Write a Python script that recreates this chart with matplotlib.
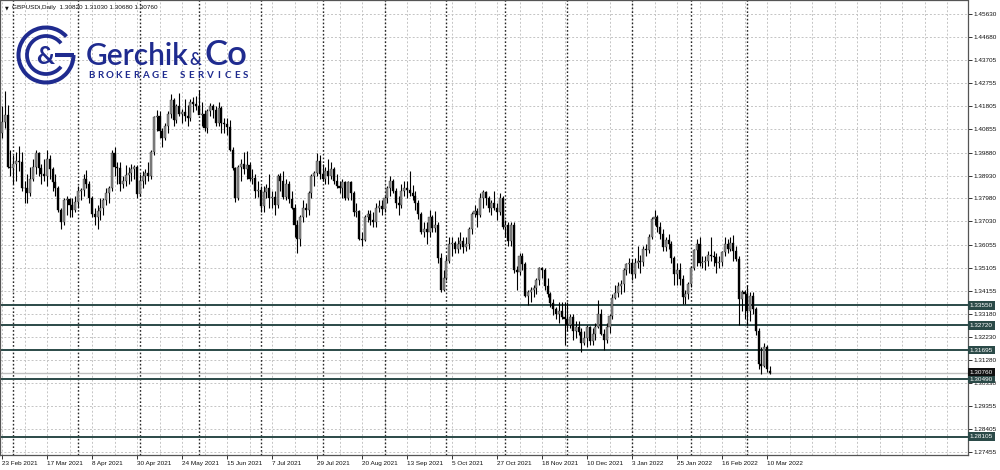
import matplotlib.pyplot as plt
import numpy as np
import pandas as pd
from matplotlib.patches import Arc

plt.rcParams['font.family'] = ['Liberation Sans', 'DejaVu Sans']

# Cours GBPUSD journaliers (en 1/10000), du 23 fév 2021 au 11 mars 2022
opens = [14070, 14115, 14145, 13930, 13925, 13940, 13955, 13950, 13840, 13840, 13820, 13880, 13930, 13985, 13925, 13900,
         13890, 13960, 13920, 13865, 13840, 13750, 13700, 13790, 13795, 13770, 13750, 13785, 13830, 13835, 13880, 13860,
         13800, 13735, 13720, 13745, 13760, 13790, 13820, 13840, 13985, 13930, 13925, 13860, 13870, 13895, 13905, 13920,
         13930, 13815, 13870, 13890, 13905, 13890, 13990, 14135, 14140, 14080, 14050, 14100, 14150, 14205, 14125, 14180,
         14150, 14155, 14140, 14130, 14200, 14190, 14180, 14145, 14150, 14090, 14160, 14180, 14165, 14110, 14175, 14110,
         14105, 14095, 14000, 13925, 13800, 13930, 13940, 13920, 13935, 13880, 13885, 13830, 13835, 13765, 13825, 13840,
         13800, 13805, 13770, 13890, 13870, 13805, 13860, 13795, 13760, 13690, 13630, 13720, 13760, 13750, 13820, 13890,
         13905, 13955, 13900, 13880, 13910, 13890, 13920, 13870, 13850, 13840, 13865, 13800, 13865, 13820, 13740, 13745,
         13630, 13625, 13720, 13735, 13710, 13700, 13760, 13765, 13755, 13800, 13840, 13870, 13830, 13780, 13770, 13830,
         13840, 13835, 13820, 13810, 13780, 13735, 13660, 13670, 13660, 13720, 13675, 13690, 13550, 13420, 13470, 13540,
         13610, 13615, 13590, 13610, 13620, 13595, 13610, 13670, 13735, 13745, 13730, 13800, 13825, 13800, 13760, 13780,
         13760, 13740, 13800, 13680, 13690, 13620, 13690, 13500, 13495, 13560, 13525, 13395, 13410, 13420, 13425, 13460,
         13510, 13500, 13435, 13400, 13365, 13340, 13320, 13330, 13305, 13300, 13275, 13305, 13250, 13265, 13245, 13200,
         13220, 13265, 13205, 13235, 13265, 13320, 13235, 13210, 13265, 13310, 13385, 13405, 13435, 13445, 13500, 13525,
         13530, 13485, 13530, 13540, 13535, 13590, 13585, 13640, 13715, 13720, 13680, 13650, 13595, 13625, 13610, 13550,
         13485, 13500, 13465, 13390, 13400, 13445, 13510, 13585, 13610, 13530, 13535, 13540, 13565, 13560, 13555, 13530,
         13535, 13575, 13610, 13590, 13615, 13580, 13545, 13380, 13410, 13400, 13330, 13395, 13340, 13250, 13110, 13105,
         13180, 13082]
highs = [14180, 14243, 14185, 14000, 13980, 13990, 14015, 13990, 13870, 13900, 13930, 13960, 14000, 13990, 13940, 13960,
         14000, 13980, 13930, 13900, 13850, 13760, 13800, 13810, 13800, 13800, 13810, 13850, 13840, 13900, 13915, 13870,
         13810, 13760, 13770, 13800, 13800, 13840, 13850, 14000, 14010, 13950, 13950, 13890, 13935, 13930, 13940, 13935,
         13935, 13900, 13910, 13920, 13950, 14000, 14140, 14165, 14160, 14090, 14110, 14160, 14230, 14215, 14190, 14235,
         14170, 14210, 14185, 14210, 14220, 14225, 14250, 14200, 14165, 14170, 14195, 14190, 14180, 14200, 14180, 14130,
         14130, 14125, 14010, 13930, 13935, 13960, 13990, 13995, 13950, 13920, 13900, 13870, 13850, 13850, 13860, 13900,
         13830, 13830, 13900, 13905, 13910, 13880, 13870, 13830, 13775, 13710, 13730, 13790, 13780, 13830, 13900, 13910,
         13985, 13980, 13940, 13930, 13960, 13950, 13930, 13900, 13870, 13880, 13870, 13870, 13870, 13830, 13780, 13750,
         13660, 13730, 13750, 13750, 13740, 13780, 13790, 13790, 13810, 13850, 13890, 13880, 13840, 13810, 13860, 13870,
         13870, 13910, 13855, 13830, 13790, 13740, 13700, 13700, 13750, 13730, 13745, 13700, 13570, 13500, 13560, 13640,
         13640, 13620, 13640, 13660, 13640, 13640, 13680, 13740, 13770, 13760, 13820, 13835, 13830, 13810, 13790, 13830,
         13780, 13820, 13810, 13710, 13700, 13700, 13700, 13520, 13570, 13570, 13535, 13420, 13430, 13440, 13470, 13515,
         13515, 13510, 13470, 13410, 13380, 13350, 13370, 13370, 13370, 13370, 13320, 13320, 13290, 13290, 13260, 13250,
         13275, 13270, 13260, 13280, 13375, 13340, 13255, 13280, 13320, 13400, 13440, 13450, 13460, 13510, 13530, 13550,
         13545, 13550, 13600, 13565, 13600, 13610, 13650, 13720, 13750, 13730, 13700, 13670, 13640, 13650, 13620, 13560,
         13530, 13530, 13480, 13420, 13450, 13520, 13590, 13630, 13640, 13560, 13560, 13580, 13640, 13580, 13570, 13560,
         13580, 13640, 13630, 13640, 13645, 13600, 13560, 13420, 13420, 13440, 13410, 13410, 13350, 13260, 13180, 13200,
         13190, 13103]
lows = [14050, 14090, 13925, 13890, 13860, 13870, 13910, 13830, 13780, 13780, 13810, 13870, 13900, 13890, 13860, 13870,
        13850, 13880, 13830, 13810, 13740, 13670, 13690, 13730, 13720, 13720, 13740, 13760, 13790, 13810, 13840, 13780,
        13720, 13690, 13670, 13710, 13730, 13770, 13780, 13830, 13890, 13860, 13830, 13840, 13850, 13860, 13870, 13880,
        13800, 13810, 13840, 13860, 13870, 13880, 13980, 14080, 14050, 14010, 14040, 14070, 14130, 14100, 14110, 14140,
        14110, 14120, 14100, 14120, 14155, 14165, 14150, 14100, 14080, 14070, 14140, 14130, 14100, 14100, 14070, 14070,
        14060, 13995, 13915, 13785, 13790, 13870, 13900, 13880, 13870, 13860, 13800, 13805, 13740, 13740, 13800, 13760,
        13760, 13730, 13760, 13830, 13795, 13790, 13780, 13755, 13640, 13572, 13600, 13700, 13720, 13730, 13800, 13850,
        13890, 13880, 13870, 13860, 13860, 13880, 13860, 13840, 13820, 13800, 13790, 13790, 13790, 13725, 13720, 13625,
        13602, 13620, 13700, 13690, 13680, 13680, 13740, 13730, 13740, 13780, 13810, 13820, 13760, 13730, 13760, 13810,
        13800, 13810, 13790, 13750, 13715, 13650, 13640, 13610, 13640, 13660, 13660, 13530, 13412, 13415, 13460, 13530,
        13560, 13570, 13570, 13590, 13570, 13580, 13590, 13650, 13720, 13680, 13720, 13760, 13770, 13740, 13730, 13750,
        13710, 13730, 13670, 13640, 13600, 13600, 13490, 13420, 13480, 13500, 13390, 13355, 13370, 13390, 13400, 13440,
        13470, 13420, 13390, 13350, 13315, 13300, 13280, 13300, 13190, 13250, 13260, 13210, 13220, 13230, 13160, 13190,
        13180, 13190, 13190, 13210, 13260, 13230, 13170, 13200, 13240, 13300, 13380, 13390, 13400, 13410, 13480, 13490,
        13460, 13470, 13510, 13490, 13520, 13560, 13570, 13630, 13690, 13660, 13630, 13580, 13580, 13590, 13530, 13440,
        13440, 13440, 13360, 13360, 13380, 13430, 13500, 13520, 13520, 13510, 13500, 13520, 13540, 13520, 13490, 13510,
        13520, 13560, 13570, 13580, 13540, 13540, 13275, 13330, 13300, 13275, 13290, 13320, 13230, 13090, 13070, 13100,
        13080, 13068]
closes = [14115, 14145, 13930, 13925, 13940, 13955, 13950, 13840, 13840, 13820, 13880, 13930, 13985, 13925, 13900, 13890,
          13960, 13920, 13865, 13840, 13750, 13700, 13790, 13795, 13770, 13750, 13785, 13830, 13835, 13880, 13860, 13800,
          13735, 13720, 13745, 13760, 13790, 13820, 13840, 13985, 13930, 13925, 13860, 13870, 13895, 13905, 13920, 13930,
          13815, 13870, 13890, 13905, 13890, 13990, 14135, 14140, 14080, 14050, 14100, 14150, 14205, 14125, 14180, 14150,
          14155, 14140, 14130, 14200, 14190, 14180, 14145, 14150, 14090, 14160, 14180, 14165, 14110, 14175, 14110, 14105,
          14095, 14000, 13925, 13800, 13930, 13940, 13920, 13935, 13880, 13885, 13830, 13835, 13765, 13825, 13840, 13800,
          13805, 13770, 13890, 13870, 13805, 13860, 13795, 13760, 13690, 13630, 13720, 13760, 13750, 13820, 13890, 13905,
          13955, 13900, 13880, 13910, 13890, 13920, 13870, 13850, 13840, 13865, 13800, 13865, 13820, 13740, 13745, 13630,
          13625, 13720, 13735, 13710, 13700, 13760, 13765, 13755, 13800, 13840, 13870, 13830, 13780, 13770, 13830, 13840,
          13835, 13820, 13810, 13780, 13735, 13660, 13670, 13660, 13720, 13675, 13690, 13550, 13420, 13470, 13540, 13610,
          13615, 13590, 13610, 13620, 13595, 13610, 13670, 13735, 13745, 13730, 13800, 13825, 13800, 13760, 13780, 13760,
          13740, 13800, 13680, 13690, 13620, 13690, 13500, 13495, 13560, 13525, 13395, 13410, 13420, 13425, 13460, 13510,
          13500, 13435, 13400, 13365, 13340, 13320, 13330, 13305, 13300, 13275, 13305, 13250, 13265, 13245, 13200, 13220,
          13265, 13205, 13235, 13265, 13320, 13235, 13210, 13265, 13310, 13385, 13405, 13435, 13445, 13500, 13525, 13530,
          13485, 13530, 13540, 13535, 13590, 13585, 13640, 13715, 13720, 13680, 13650, 13595, 13625, 13610, 13550, 13485,
          13500, 13465, 13390, 13400, 13445, 13510, 13585, 13610, 13530, 13535, 13540, 13565, 13560, 13555, 13530, 13535,
          13575, 13610, 13590, 13615, 13580, 13545, 13380, 13410, 13400, 13330, 13395, 13340, 13250, 13110, 13105, 13180,
          13090, 13076]

price_ticks = [1.45630, 1.44680, 1.43705, 1.42755, 1.41805, 1.40855, 1.39880, 1.38930, 1.37980, 1.37030,
               1.36055, 1.35105, 1.34155, 1.33180, 1.32230, 1.31280, 1.30330, 1.29355, 1.28405, 1.27455]
levels = [1.33550, 1.32720, 1.31695, 1.30490, 1.28105]
bid = 1.30760
date_labels = ["23 Feb 2021", "17 Mar 2021", "8 Apr 2021", "30 Apr 2021", "24 May 2021", "15 Jun 2021",
               "7 Jul 2021", "29 Jul 2021", "20 Aug 2021", "13 Sep 2021", "5 Oct 2021", "27 Oct 2021",
               "18 Nov 2021", "10 Dec 2021", "3 Jan 2022", "25 Jan 2022", "16 Feb 2022", "10 Mar 2022"]
header = "GBPUSDi,Daily  1.30820 1.31030 1.30680 1.30760"

o = np.array(opens) / 1e4
h = np.array(highs) / 1e4
l = np.array(lows) / 1e4
c = np.array(closes) / 1e4
dates = pd.bdate_range("2021-02-23", periods=len(c))
idx = np.arange(len(c))

fig = plt.figure(figsize=(10, 4.7), dpi=100)
fig.patch.set_facecolor('white')
ax = fig.add_axes([0, 15.3 / 470, 967.5 / 1000, 454.2 / 470])

# echelle : 2411 px par unite, 1.3355 a 305.3 px
ax.set_ylim(1.3355 - 149.4 / 2411, 1.3355 + 304.8 / 2411)
ax.set_xlim(-2 / 2.8125, 965.5 / 2.8125)

# grille
for p in price_ticks:
    ax.axhline(p, color='#c4c4c4', lw=0.7, ls=(0, (2, 2)), zorder=0)
for i in range(0, 344, 8):
    ax.axvline(i, color='#c4c4c4', lw=0.7, ls=(0, (2, 2)), zorder=0)
month_start = [i for i in range(1, len(dates)) if dates[i].month != dates[i - 1].month]
for i in month_start:
    ax.axvline(i, color='#262626', lw=1.0, ls=(0, (1.2, 1.5)), zorder=0.5)

# niveaux
for lv in levels:
    ax.axhline(lv, color='#2b4a48', lw=1.4, zorder=1)
ax.axhline(bid, color='#c0c0c0', lw=1.0, zorder=1)

# bougies
up = c >= o
ax.vlines(idx, l, h, color='black', lw=0.8, zorder=2)
body = np.maximum(np.abs(c - o), 0.00006)
ax.bar(idx[up], body[up], bottom=np.minimum(o, c)[up], width=0.72, color='#8a8a8a',
       edgecolor='#222222', linewidth=0.25, zorder=3)
ax.bar(idx[~up], body[~up], bottom=np.minimum(o, c)[~up], width=0.72, color='black',
       edgecolor='black', linewidth=0.25, zorder=3)

# axes
ax.yaxis.tick_right()
ax.set_yticks(price_ticks)
ax.set_yticklabels([f"{p:.5f}" for p in price_ticks])
lab_pos = [dates.get_loc(pd.Timestamp(d)) for d in date_labels]
ax.set_xticks(lab_pos)
ax.set_xticklabels(date_labels, ha='left')
ax.tick_params(axis='y', length=3, width=0.6, pad=1.5, labelsize=4.6, colors='#111111')
ax.tick_params(axis='x', length=3, width=0.6, pad=1.5, labelsize=4.6, colors='#111111')
for sp in ax.spines.values():
    sp.set_color('#555555')
    sp.set_linewidth(0.9)

ytr = ax.get_yaxis_transform()
for lv in levels:
    ax.text(1.0025, lv, f"{lv:.5f}", transform=ytr, fontsize=4.6, color='white', va='center', ha='left',
            bbox=dict(boxstyle='square,pad=0.3', fc='#2b4a48', ec='none'), clip_on=False, zorder=5)
ax.text(1.0025, bid + 0.00022, f"{bid:.5f}", transform=ytr, fontsize=4.6, color='white', va='center', ha='left',
        bbox=dict(boxstyle='square,pad=0.3', fc='#111111', ec='none'), clip_on=False, zorder=6)

# en-tete et logo
ov = fig.add_axes([0, 0, 1, 1])
ov.set_xlim(0, 1000)
ov.set_ylim(470, 0)
ov.axis('off')
ov.text(5, 7.5, "\u25bc", fontsize=3.5, va='center', ha='left', color='#111111', family='DejaVu Sans')
ov.text(12, 7.5, header, fontsize=4.6, va='center', ha='left', color='#111111')

blue = '#1f2b8f'
ov.add_patch(Arc((46, 55), 55, 55, theta1=0, theta2=318, lw=2.9, color=blue))
ov.add_patch(Arc((46, 55), 38, 38, theta1=38, theta2=322, lw=2.7, color=blue))
ov.plot([55, 73.5], [55, 55], color=blue, lw=2.9, solid_capstyle='butt')
ov.text(45, 57, "&", fontsize=18, color=blue, ha='center', va='center', family='Lato', weight='bold')
ov.text(86, 65, "Gerchik", fontsize=21.5, color=blue, ha='left', va='baseline', family='Lato', weight='semibold')
ov.text(189, 65, "&", fontsize=12, color=blue, ha='left', va='baseline', family='Lato', weight='semibold')
ov.text(204, 65, "Co", fontsize=25, color=blue, ha='left', va='baseline', family='Lato', weight='semibold')
sub = "BROKERAGE SERVICES"
for k, ch in enumerate(sub):
    ov.text(91 + k * 9.1, 78.5, ch, fontsize=7, color=blue, ha='center', va='baseline', family='Lato', weight='bold')

fig.savefig('out.png', dpi=100)
